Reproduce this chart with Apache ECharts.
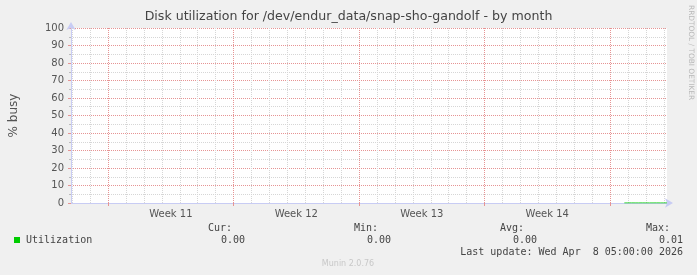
<!DOCTYPE html>
<html><head><meta charset="utf-8">
<script src="https://cdn.jsdelivr.net/npm/echarts@6/dist/echarts.min.js"></script>
<style>html,body{margin:0;padding:0;background:#f0f0f0}#c{width:697px;height:275px}</style>
</head><body><div id="c"></div>
<script>
// x values: days relative to Monday 00:00 starting Week 11
const xMin = -2.07, xMax = 31.18;
const weekStarts = [0, 7, 14, 21, 28];
const weekCenters = [3.5, 10.5, 17.5, 24.5];
const weekLabels = ['Week 11', 'Week 12', 'Week 13', 'Week 14'];
const dayLines = [-2, -1, 1, 2, 3, 4, 5, 6, 8, 9, 10, 11, 12, 13, 15, 16, 17, 18, 19, 20, 22, 23, 24, 25, 26, 27, 29, 30, 31];
// utilization samples (day, % busy) — only the last ~2.4 days have data
const utilDays = [28.8, 29.0, 29.2, 29.4, 29.6, 29.8, 30.0, 30.2, 30.4, 30.6, 30.8, 31.0, 31.18];
const utilValues = [0.00, 0.00, 0.01, 0.00, 0.00, 0.01, 0.00, 0.00, 0.00, 0.01, 0.00, 0.00, 0.00];
const legendName = 'Utilization';
const stats = {cur: '0.00', min: '0.00', avg: '0.00', max: '0.01'};

const axisColor = '#c8ccf4';
const majorColor = '#e69494';
const minorColor = '#d6d6d6';
const mono = '"DejaVu Sans Mono", monospace';
const sans = '"DejaVu Sans", sans-serif';

const chart = echarts.init(document.getElementById('c'), null, {renderer: 'canvas'});
const minorStyle = {color: minorColor, type: [1, 1], width: 1};
const majorStyle = {color: majorColor, type: [1, 1], width: 1};
const gridMarks = []
  .concat(dayLines.map(d => ({xAxis: d, lineStyle: minorStyle})))
  .concat(weekStarts.map(d => ({xAxis: d, lineStyle: majorStyle})));

chart.setOption({
  animation: false,
  backgroundColor: '#f0f0f0',
  grid: {left: 67, top: 28, right: 30, bottom: 72, show: true, backgroundColor: '#ffffff', borderWidth: 0},
  xAxis: {
    type: 'value', min: xMin, max: xMax,
    axisLine: {show: true, onZero: false, lineStyle: {color: axisColor, width: 1}, symbol: ['none', 'arrow'], symbolSize: [7, 8], symbolOffset: [0, 6]},
    axisTick: {show: true, customValues: weekStarts, length: 3, inside: false, lineStyle: {color: majorColor}},
    axisLabel: {show: true, customValues: weekCenters, formatter: v => weekLabels[weekCenters.indexOf(v)] || '',
      color: '#555', fontFamily: sans, fontSize: 10, margin: 6},
    splitLine: {show: false}
  },
  yAxis: {
    type: 'value', min: 0, max: 100, interval: 10,
    name: '% busy', nameLocation: 'middle', nameGap: 51, nameTextStyle: {color: '#555', fontFamily: sans, fontSize: 12},
    axisLine: {show: true, onZero: false, lineStyle: {color: axisColor, width: 1}, symbol: ['none', 'arrow'], symbolSize: [7, 8], symbolOffset: [0, 6]},
    axisTick: {show: true, length: 3, lineStyle: {color: majorColor}},
    minorTick: {show: true, splitNumber: 2, length: 2, lineStyle: {color: '#bbbbbb'}},
    axisLabel: {color: '#555', fontFamily: sans, fontSize: 10, margin: 7},
    splitLine: {show: true, lineStyle: majorStyle},
    minorSplitLine: {show: true, lineStyle: minorStyle}
  },
  series: [{
    type: 'line', name: legendName, symbol: 'none', silent: true,
    data: utilDays.map((d, i) => [d, utilValues[i]]),
    lineStyle: {color: '#00cc00', width: 1}, itemStyle: {color: '#00cc00'},
    z: 5,
    markLine: {silent: true, symbol: 'none', label: {show: false}, animation: false, z: 1,
      data: gridMarks}
  }],
  graphic: [
    {type: 'text', left: 'center', top: 10, style: {text: 'Disk utilization for /dev/endur_data/snap-sho-gandolf - by month', fill: '#444', font: '12.6px ' + sans}},
    {type: 'text', x: 691, y: 5, rotation: -Math.PI / 2, style: {text: 'RRDTOOL / TOBI OETIKER', fill: '#b8b8b8', font: '7.4px ' + sans, textAlign: 'left', textVerticalAlign: 'middle'}},
    {type: 'rect', shape: {x: 14, y: 237, width: 6, height: 6}, style: {fill: '#00cc00'}},
    {type: 'text', x: 26, y: 240, style: {text: legendName, fill: '#444', font: '10px ' + mono, textVerticalAlign: 'middle'}},
    {type: 'text', x: 232, y: 228, style: {text: 'Cur:', fill: '#444', font: '10px ' + mono, textAlign: 'right', textVerticalAlign: 'middle'}},
    {type: 'text', x: 245, y: 240, style: {text: stats.cur, fill: '#444', font: '10px ' + mono, textAlign: 'right', textVerticalAlign: 'middle'}},
    {type: 'text', x: 378, y: 228, style: {text: 'Min:', fill: '#444', font: '10px ' + mono, textAlign: 'right', textVerticalAlign: 'middle'}},
    {type: 'text', x: 391, y: 240, style: {text: stats.min, fill: '#444', font: '10px ' + mono, textAlign: 'right', textVerticalAlign: 'middle'}},
    {type: 'text', x: 524, y: 228, style: {text: 'Avg:', fill: '#444', font: '10px ' + mono, textAlign: 'right', textVerticalAlign: 'middle'}},
    {type: 'text', x: 537, y: 240, style: {text: stats.avg, fill: '#444', font: '10px ' + mono, textAlign: 'right', textVerticalAlign: 'middle'}},
    {type: 'text', x: 670, y: 228, style: {text: 'Max:', fill: '#444', font: '10px ' + mono, textAlign: 'right', textVerticalAlign: 'middle'}},
    {type: 'text', x: 683, y: 240, style: {text: stats.max, fill: '#444', font: '10px ' + mono, textAlign: 'right', textVerticalAlign: 'middle'}},
    {type: 'text', x: 683, y: 252, style: {text: 'Last update: Wed Apr  8 05:00:00 2026', fill: '#444', font: '10px ' + mono, textAlign: 'right', textVerticalAlign: 'middle'}},
    {type: 'text', x: 348, y: 264, style: {text: 'Munin 2.0.76', fill: '#c8c8c8', font: '8px ' + sans, textAlign: 'center', textVerticalAlign: 'middle'}}
  ]
});
</script></body></html>
